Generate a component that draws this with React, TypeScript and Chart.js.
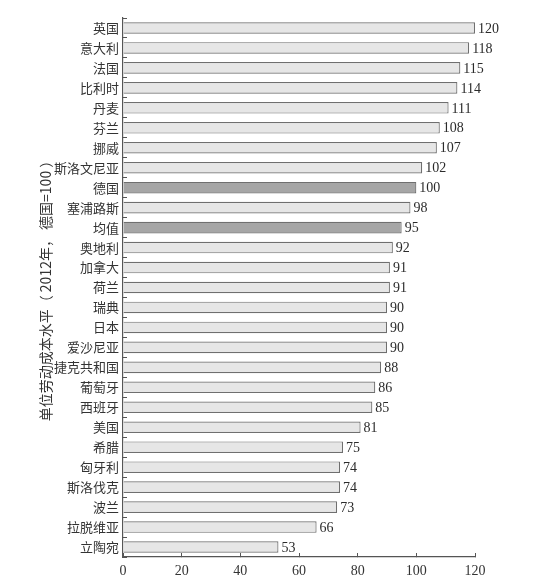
import React, { useEffect, useRef } from 'react';
import { Chart, registerables } from 'chart.js';

Chart.register(...registerables);

const countries = [
    '英国', '意大利', '法国', '比利时', '丹麦', '芬兰', '挪威', '斯洛文尼亚', '德国',
    '塞浦路斯', '均值', '奥地利', '加拿大', '荷兰', '瑞典', '日本', '爱沙尼亚',
    '捷克共和国', '葡萄牙', '西班牙', '美国', '希腊', '匈牙利', '斯洛伐克', '波兰',
    '拉脱维亚', '立陶宛',
];
const costLevels = [
    120, 118, 115, 114, 111, 108, 107, 102, 100, 98, 95, 92, 91, 91, 90, 90, 90,
    88, 86, 85, 81, 75, 74, 74, 73, 66, 53,
];
const highlighted = ['德国', '均值'];
const xTicks = [0, 20, 40, 60, 80, 100, 120];
const axisTitle = '单位劳动成本水平（ 2012年， 德国=100 ）';

const NUM_FONT = '"Liberation Serif", "DejaVu Serif", serif';
const CJK_FONT = '"Noto Sans CJK SC", sans-serif';

// value printed just after the end of each bar
const valueLabels = {
    id: 'valueLabels',
    afterDatasetsDraw(chart: any) {
        const { ctx } = chart;
        const meta = chart.getDatasetMeta(0);
        ctx.save();
        ctx.font = `14px ${NUM_FONT}`;
        ctx.fillStyle = '#2b2b2b';
        ctx.textAlign = 'left';
        ctx.textBaseline = 'middle';
        meta.data.forEach((bar: any, i: number) => {
            ctx.fillText(String(costLevels[i]), bar.x + 3, bar.y + 1);
        });
        ctx.restore();
    },
};

export default function App() {
    const canvasRef = useRef<HTMLCanvasElement>(null);
    const chartRef = useRef<Chart | null>(null);

    useEffect(() => {
        document.body.style.margin = '0';
        document.body.style.background = '#fff';
        if (!canvasRef.current) return;
        if (chartRef.current) chartRef.current.destroy();

        chartRef.current = new Chart(canvasRef.current, {
            type: 'bar',
            data: {
                labels: countries,
                datasets: [{
                    data: costLevels,
                    backgroundColor: countries.map(c => highlighted.includes(c) ? '#a6a6a6' : '#e6e6e6'),
                    borderColor: '#6f6f6f',
                    borderWidth: 1.2,
                    barPercentage: 0.58,
                    categoryPercentage: 1,
                }],
            },
            options: {
                indexAxis: 'y',
                animation: false,
                responsive: true,
                maintainAspectRatio: false,
                layout: { padding: { top: 18, right: 78, bottom: 0, left: 0 } },
                plugins: {
                    legend: { display: false },
                    tooltip: { enabled: false },
                },
                scales: {
                    x: {
                        min: 0,
                        max: 120,
                        afterBuildTicks: (scale: any) => {
                            scale.ticks = xTicks.map(v => ({ value: v }));
                        },
                        afterFit: (scale: any) => { scale.height = 30; },
                        grid: { drawOnChartArea: false, tickLength: -4, color: '#555', lineWidth: 1 },
                        border: { display: true, color: '#555', width: 1.2 },
                        ticks: {
                            padding: 10,
                            color: '#333',
                            font: { family: NUM_FONT, size: 14 },
                        },
                    },
                    y: {
                        afterFit: (scale: any) => { scale.width = 123; },
                        grid: { drawOnChartArea: false, tickLength: -4, color: '#555', lineWidth: 1, offset: true },
                        border: { display: true, color: '#555', width: 1.2 },
                        ticks: {
                            autoSkip: false,
                            padding: 8,
                            color: '#333',
                            font: { family: CJK_FONT, size: 13 },
                        },
                        title: {
                            display: true,
                            text: axisTitle,
                            color: '#333',
                            font: { family: CJK_FONT, size: 14 },
                            padding: { top: 37, bottom: 0 },
                        },
                    },
                },
            },
            plugins: [valueLabels],
        });

        return () => {
            if (chartRef.current) {
                chartRef.current.destroy();
                chartRef.current = null;
            }
        };
    }, []);

    return (
        <div style={{ width: 553, height: 587, position: 'relative', background: '#fff' }}>
            <canvas ref={canvasRef}></canvas>
        </div>
    );
}
